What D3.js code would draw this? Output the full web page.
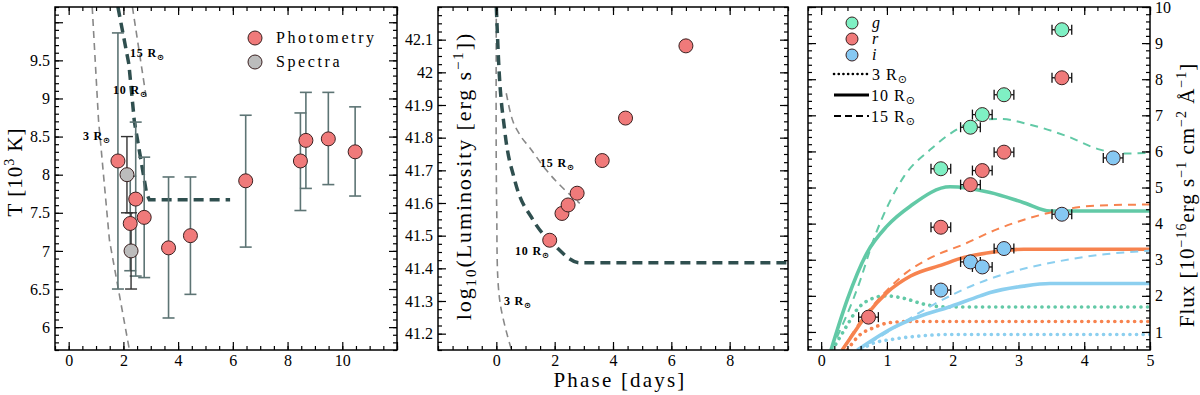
<!DOCTYPE html>
<html>
<head>
<meta charset="utf-8">
<script src="https://cdn.jsdelivr.net/npm/d3@7"></script>
<style>
  body { margin: 0; background: #fff; }
  svg text { font-family: "Liberation Serif", "DejaVu Serif", serif; fill: #000; }
</style>
</head>
<body>
<svg id="chart" width="1200" height="395"></svg>
<script>
// ---- panel 1: temperature ----
const tPhotX  = [1.8, 2.25, 2.45, 2.76, 3.65, 4.45, 6.47, 8.47, 8.67, 9.49, 10.47];
const tPhotY  = [8.18, 7.36, 7.68, 7.44, 7.04, 7.2, 7.92, 8.18, 8.45, 8.47, 8.3];
const tPhotLo = [6.5, 6.74, 6.67, 6.65, 6.12, 6.43, 7.05, 7.53, 7.82, 7.87, 7.72];
const tPhotHi = [9.86, 7.98, 8.69, 8.23, 7.97, 7.97, 8.78, 8.81, 9.08, 9.08, 8.89];
const tSpecX  = [2.13, 2.28];
const tSpecY  = [8.0, 7.0];
const tSpecLo = [7.5, 6.5];
const tSpecHi = [8.5, 7.5];
const tModel3  = [[0.86, 10.2], [1.09, 8.72], [1.49, 7.14], [2.22, 5.7]];
const tModel10 = [[1.8, 10.2], [2.2, 9.45], [2.4, 8.7], [2.85, 7.75], [2.95, 7.67], [5.9, 7.67]];
const tModel15 = [[2.33, 10.2], [2.84, 9.0]];

// ---- panel 2: luminosity ----
const lumX = [1.83, 2.25, 2.46, 2.77, 3.63, 4.43, 6.5];
const lumY = [41.486, 41.568, 41.594, 41.63, 41.73, 41.86, 42.081];
const lModel3  = [[0, 42.2], [0.01, 41.6], [0.12, 41.3], [0.52, 41.15]];
const lModel10 = [[0, 42.2], [0.08, 42.03], [0.29, 41.82], [0.63, 41.67], [1.26, 41.548], [2.0, 41.47], [2.86, 41.417], [10, 41.417]];
const lModel15 = [[0.34, 41.936], [0.5, 41.87], [0.8, 41.81], [1.14, 41.77], [1.72, 41.70], [2.29, 41.645], [2.86, 41.599]];

// ---- panel 3: flux ----
const bands = ["g", "r", "i"];
const fluxX = {
  g: [1.82, 2.27, 2.45, 2.78, 3.66],
  r: [0.72, 1.82, 2.27, 2.45, 2.78, 3.66],
  i: [1.82, 2.27, 2.45, 2.78, 3.66, 4.44]
};
const fluxY = {
  g: [5.52, 6.67, 7.02, 7.57, 9.37],
  r: [1.41, 3.90, 5.08, 5.47, 5.98, 8.04],
  i: [2.16, 2.94, 2.80, 3.31, 4.26, 5.82]
};
const fluxErrX = 0.15;
const radii = ["3", "10", "15"];
const fluxModel = {
  g: {
    "3":  [[0.17, 0.5], [0.39, 1.17], [0.55, 1.63], [0.7, 1.86], [0.98, 2.0], [1.26, 1.93], [1.56, 1.77], [1.81, 1.70], [2.1, 1.69], [5, 1.69]],
    "10": [[0.15, 0.5], [0.4, 1.91], [0.7, 3.2], [1.0, 3.93], [1.36, 4.49], [1.96, 5.02], [2.57, 4.86], [3.08, 4.58], [3.48, 4.35], [5, 4.35]],
    "15": [[0.15, 0.5], [0.6, 2.46], [0.78, 3.47], [1.06, 4.67], [1.26, 5.31], [1.66, 6.05], [2.02, 6.56], [2.37, 6.86], [2.72, 6.9], [3.18, 6.74], [3.74, 6.42], [4.24, 6.05], [4.6, 5.94], [5, 5.96]]
  },
  r: {
    "3":  [[0.4, 0.5], [0.57, 0.89], [0.8, 1.12], [1.05, 1.26], [1.36, 1.29], [5, 1.29]],
    "10": [[0.32, 0.5], [0.5, 0.98], [0.7, 1.49], [1.0, 2.09], [1.36, 2.55], [1.86, 2.87], [2.07, 3.01], [2.57, 3.2], [3.08, 3.29], [3.45, 3.29], [5, 3.29]],
    "15": [[0.32, 0.5], [0.6, 1.3], [1.0, 2.15], [1.3, 2.65], [1.66, 3.05], [2.17, 3.43], [2.67, 3.84], [3.18, 4.16], [3.69, 4.39], [4.19, 4.5], [5, 4.53]]
  },
  i: {
    "3":  [[0.62, 0.5], [0.75, 0.66], [1.1, 0.8], [1.51, 0.89], [1.96, 0.93], [5, 0.93]],
    "10": [[0.55, 0.5], [0.8, 0.8], [1.1, 1.12], [1.51, 1.44], [1.91, 1.67], [2.42, 2.0], [2.57, 2.09], [3.08, 2.27], [3.48, 2.34], [5, 2.34]],
    "15": [[0.55, 0.5], [0.88, 0.85], [1.2, 1.21], [1.71, 1.76], [2.32, 2.3], [2.78, 2.6], [3.59, 2.95], [4.35, 3.16], [5, 3.25]]
  }
};

const svg = d3.select("#chart");
const TOP = 7, BOT = 350;
const photColor = "#f07a7a", specColor = "#bcbcbc";
const bandFill = { g: "#7ff0c4", r: "#f07a7a", i: "#86c8f2" };
const bandLine = { g: "#62c9a6", r: "#f7834f", i: "#8ccfef" };

function stepTicks(lo, hi, step) {
  const a = Math.ceil(lo / step - 1e-9), b = Math.floor(hi / step + 1e-9);
  return d3.range(a, b + 1).map(i => +(i * step).toFixed(6));
}
const numFmt = d => String(+d.toFixed(3));

let clipId = 0;
function makePanel(x0, x1, xdom, ydom, o) {
  const x = d3.scaleLinear().domain(xdom).range([x0, x1]);
  const y = d3.scaleLinear().domain(ydom).range([BOT, TOP]);
  const g = svg.append("g");
  const id = "clip" + (clipId++);
  svg.append("clipPath").attr("id", id)
    .append("rect").attr("x", x0).attr("y", TOP).attr("width", x1 - x0).attr("height", BOT - TOP);
  const plot = g.append("g").attr("clip-path", `url(#${id})`);

  const ax = g.append("g");
  function axis(fn, scale, values, size, tr, fmt) {
    const s = ax.append("g").attr("transform", tr)
      .call(fn(scale).tickValues(values).tickSize(size).tickPadding(5).tickFormat(fmt || (() => "")));
    s.select(".domain").remove();
    s.selectAll("line").attr("stroke", "#000").attr("stroke-width", 1.2);
    s.selectAll("text").attr("font-size", 16).style("font-family", '"Liberation Serif", serif');
    return s;
  }
  const xMin = stepTicks(xdom[0], xdom[1], o.xMinor);
  const yMin = stepTicks(ydom[0], ydom[1], o.yMinor);
  axis(d3.axisBottom, x, xMin, -4, `translate(0,${BOT})`);
  axis(d3.axisTop, x, xMin, -4, `translate(0,${TOP})`);
  axis(d3.axisLeft, y, yMin, -4, `translate(${x0},0)`);
  axis(d3.axisRight, y, yMin, -4, `translate(${x1},0)`);
  const xb = axis(d3.axisBottom, x, o.xMajor, -8, `translate(0,${BOT})`, numFmt);
  axis(d3.axisTop, x, o.xMajor, -8, `translate(0,${TOP})`);
  const yl = axis(d3.axisLeft, y, o.yMajor, -8, `translate(${x0},0)`, o.yRight ? null : numFmt);
  axis(d3.axisRight, y, o.yMajor, -8, `translate(${x1},0)`, o.yRight ? numFmt : null);
  if (o.hideY) yl.selectAll("text").filter(d => o.hideY.includes(d)).remove();
  if (o.hideX) xb.selectAll("text").filter(d => o.hideX.includes(d)).remove();

  g.append("rect").attr("x", x0).attr("y", TOP).attr("width", x1 - x0).attr("height", BOT - TOP)
    .attr("fill", "none").attr("stroke", "#000").attr("stroke-width", 1.5);
  return { x, y, plot, g };
}

function dashed(p, pts, heavy, curve) {
  p.plot.append("path")
    .attr("d", d3.line().x(d => p.x(d[0])).y(d => p.y(d[1])).curve(curve || d3.curveLinear)(pts))
    .attr("fill", "none")
    .attr("stroke", heavy ? "#2f4f4f" : "#888")
    .attr("stroke-width", heavy ? 3.5 : 1.6)
    .attr("stroke-dasharray", heavy ? "10,6" : "7,5");
}

function rLabel(x, y, num, size, bold) {
  const t = svg.append("text").attr("x", x).attr("y", y)
    .attr("font-size", size).attr("font-weight", bold ? "bold" : "normal");
  t.append("tspan").text(num + " R");
  t.append("tspan").text("⊙").attr("font-size", size * 0.7).attr("dy", 3)
    .style("font-family", '"DejaVu Sans", sans-serif');
  return t;
}

function vErr(p, xs, lo, hi, color, w) {
  xs.forEach((xv, i) => {
    const X = p.x(xv);
    p.plot.append("line").attr("x1", X).attr("x2", X).attr("y1", p.y(lo[i])).attr("y2", p.y(hi[i]))
      .attr("stroke", color).attr("stroke-width", w);
    [lo[i], hi[i]].forEach(v => p.plot.append("line")
      .attr("x1", X - 6).attr("x2", X + 6).attr("y1", p.y(v)).attr("y2", p.y(v))
      .attr("stroke", color).attr("stroke-width", w));
  });
}

function dots(p, xs, ys, fill) {
  p.plot.selectAll(null).data(xs).enter().append("circle")
    .attr("cx", d => p.x(d)).attr("cy", (d, i) => p.y(ys[i])).attr("r", 7)
    .attr("fill", fill).attr("stroke", "#3a2020").attr("stroke-width", 1);
}

// ================= Panel 1 =================
const p1 = makePanel(55, 397, [-0.5, 12], [5.7, 10.2], {
  xMajor: [0, 2, 4, 6, 8, 10, 12], xMinor: 0.5, hideX: [12],
  yMajor: [6, 6.5, 7, 7.5, 8, 8.5, 9, 9.5, 10], yMinor: 0.1, hideY: [10]
});
dashed(p1, tModel3, false);
dashed(p1, tModel15, false);
dashed(p1, tModel10, true);
vErr(p1, tPhotX, tPhotLo, tPhotHi, "#5d7474", 1.6);
vErr(p1, tSpecX, tSpecLo, tSpecHi, "#333", 1.4);
dots(p1, tPhotX, tPhotY, photColor);
dots(p1, tSpecX, tSpecY, specColor);
rLabel(130, 57, "15", 12, true).attr("letter-spacing", 0.8);
rLabel(113, 94, "10", 12, true).attr("letter-spacing", 0.8);
rLabel(83, 140, "3", 12, true).attr("letter-spacing", 0.8);

// legend
[["Photometry", photColor, 38], ["Spectra", specColor, 62]].forEach(([lab, c, yy]) => {
  svg.append("circle").attr("cx", 255).attr("cy", yy).attr("r", 7)
    .attr("fill", c).attr("stroke", "#3a2020").attr("stroke-width", 1);
  svg.append("text").attr("x", 276).attr("y", yy + 5).attr("font-size", 16)
    .attr("letter-spacing", 2.6).text(lab);
});

// y label
const t1 = svg.append("text").attr("transform", "translate(22,172) rotate(-90)")
  .attr("text-anchor", "middle").attr("font-size", 21).attr("letter-spacing", 1);
t1.append("tspan").text("T [10");
t1.append("tspan").text("3").attr("font-size", 14).attr("dy", -8);
t1.append("tspan").text(" K]").attr("dy", 8);

// ================= Panel 2 =================
const p2 = makePanel(438, 788, [-2, 10], [41.15, 42.2], {
  xMajor: [0, 2, 4, 6, 8], xMinor: 0.5,
  yMajor: d3.range(0, 10).map(i => +(41.2 + i * 0.1).toFixed(1)), yMinor: 0.025
});
dashed(p2, lModel3, false, d3.curveCatmullRom);
dashed(p2, lModel15, false, d3.curveMonotoneX);
dashed(p2, lModel10, true, d3.curveMonotoneX);
dots(p2, lumX, lumY, photColor);
rLabel(540, 167, "15", 12, true).attr("letter-spacing", 0.8);
rLabel(515, 255, "10", 12, true).attr("letter-spacing", 0.8);
rLabel(504, 305, "3", 12, true).attr("letter-spacing", 0.8);

const t2 = svg.append("text").attr("transform", "translate(471,176) rotate(-90)")
  .attr("text-anchor", "middle").attr("font-size", 22).attr("letter-spacing", 1.9);
t2.append("tspan").text("log");
t2.append("tspan").text("10").attr("font-size", 15).attr("dy", 5);
t2.append("tspan").text("(Luminosity [erg s").attr("dy", -5);
t2.append("tspan").text("−1").attr("font-size", 15).attr("dy", -8);
t2.append("tspan").text("])").attr("dy", 8);

svg.append("text").attr("x", 620).attr("y", 387).attr("text-anchor", "middle")
  .attr("font-size", 21).attr("letter-spacing", 2.2).text("Phase [days]");

// ================= Panel 3 =================
const p3 = makePanel(808, 1150, [-0.2, 5], [0.5, 10], {
  xMajor: [0, 1, 2, 3, 4, 5], xMinor: 0.2,
  yMajor: d3.range(1, 11), yMinor: 0.2, yRight: true
});
const dashFor = { "3": "0.1,6.5", "10": null, "15": "8,6" };
const widthFor = { "3": 3.6, "10": 3.6, "15": 2 };
bands.forEach(b => radii.forEach(rr => {
  p3.plot.append("path")
    .attr("d", d3.line().x(d => p3.x(d[0])).y(d => p3.y(d[1])).curve(d3.curveMonotoneX)(fluxModel[b][rr]))
    .attr("fill", "none").attr("stroke", bandLine[b])
    .attr("stroke-width", widthFor[rr])
    .attr("stroke-linecap", rr === "3" ? "round" : "butt")
    .attr("stroke-dasharray", dashFor[rr]);
}));
bands.forEach(b => {
  fluxX[b].forEach((xv, i) => {
    const Y = p3.y(fluxY[b][i]);
    const xa = p3.x(xv - fluxErrX), xb = p3.x(xv + fluxErrX);
    p3.plot.append("line").attr("x1", xa).attr("x2", xb).attr("y1", Y).attr("y2", Y)
      .attr("stroke", "#111").attr("stroke-width", 1.3);
    [xa, xb].forEach(X => p3.plot.append("line").attr("x1", X).attr("x2", X)
      .attr("y1", Y - 5).attr("y2", Y + 5).attr("stroke", "#111").attr("stroke-width", 1.3));
  });
  dots(p3, fluxX[b], fluxY[b], bandFill[b]);
});

// legend
bands.forEach((b, i) => {
  const yy = 23 + i * 16;
  svg.append("circle").attr("cx", 852).attr("cy", yy).attr("r", 6)
    .attr("fill", bandFill[b]).attr("stroke", "#3a2020").attr("stroke-width", 1);
  svg.append("text").attr("x", 872).attr("y", yy + 5).attr("font-size", 16)
    .attr("font-style", "italic").text(b);
});
radii.forEach((rr, i) => {
  const yy = 74 + i * 21;
  svg.append("line").attr("x1", 834).attr("x2", 869).attr("y1", yy).attr("y2", yy)
    .attr("stroke", "#000").attr("stroke-width", rr === "3" ? 2.6 : (rr === "10" ? 3 : 1.8))
    .attr("stroke-linecap", rr === "3" ? "round" : "butt")
    .attr("stroke-dasharray", rr === "3" ? "0.1,4.6" : (rr === "15" ? "7,4" : null));
  rLabel(rr === "3" ? 872 : 871, yy + 6, rr, 16, false).attr("letter-spacing", 1);
});

const t3 = svg.append("text").attr("transform", "translate(1194,195) rotate(-90)")
  .attr("text-anchor", "middle").attr("font-size", 21).attr("letter-spacing", 1);
t3.append("tspan").text("Flux [10");
t3.append("tspan").text("−16").attr("font-size", 14).attr("dy", -8);
t3.append("tspan").text("erg s").attr("dy", 8);
t3.append("tspan").text("−1").attr("font-size", 14).attr("dy", -8);
t3.append("tspan").text(" cm").attr("dy", 8);
t3.append("tspan").text("−2").attr("font-size", 14).attr("dy", -8);
t3.append("tspan").text(" Å").attr("dy", 8);
t3.append("tspan").text("−1").attr("font-size", 14).attr("dy", -8);
t3.append("tspan").text("]").attr("dy", 8);
</script>
</body>
</html>
